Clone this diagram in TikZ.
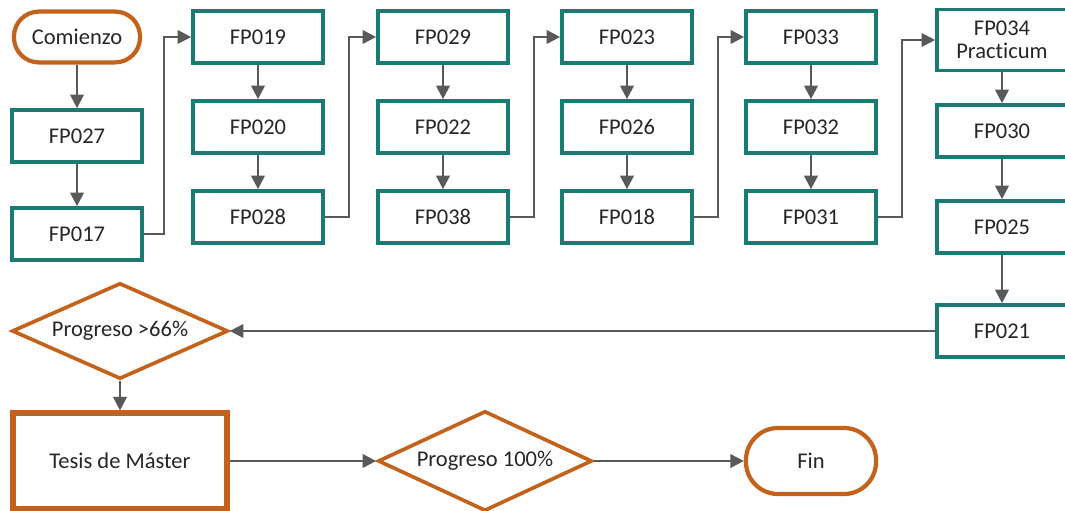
\documentclass[tikz,border=0pt]{standalone}
\usepackage{fontspec}
\setmainfont[Ligatures=NoCommon]{Carlito}
\usetikzlibrary{arrows.meta,shapes.geometric}
\definecolor{verde}{HTML}{1B7A72}
\definecolor{naranja}{HTML}{C4621C}
\definecolor{gris}{HTML}{595959}
\tikzset{
	fpbox/.style={draw=verde,line width=2.6pt,fill=white,minimum width=3.25cm,minimum height=1.3cm,inner sep=0pt,align=center,text=black!85},
	inicio/.style={draw=naranja,line width=3pt,fill=white,rounded corners=0.62cm,minimum width=3.15cm,minimum height=1.27cm,inner sep=0pt,text=black!85},
	decision/.style={draw=naranja,line width=2.6pt,fill=white,diamond,aspect=2.2,inner sep=0pt,text=black!85},
	flecha/.style={draw=gris,line width=1.5pt,-{Triangle[length=0.34cm,width=0.34cm]}},
	linea/.style={draw=gris,line width=1.5pt}
}
\begin{document}
\begin{tikzpicture}[x=0.025cm,y=-0.025cm,font=\fontsize{16}{18}\selectfont]
		\useasboundingbox (0,0) rectangle (1065,511);
		
		\node[inicio] (comienzo) at (77,37) {Comienzo};
		\node[fpbox] (fp027) at (77,136) {FP027};
		\node[fpbox] (fp017) at (77,234) {FP017};
		
		\node[fpbox] (fp019) at (258,37) {FP019};
		\node[fpbox] (fp020) at (258,127) {FP020};
		\node[fpbox] (fp028) at (258,217) {FP028};
		
		\node[fpbox] (fp029) at (443,37) {FP029};
		\node[fpbox] (fp022) at (443,127) {FP022};
		\node[fpbox] (fp038) at (443,217) {FP038};
		
		\node[fpbox] (fp023) at (627,37) {FP023};
		\node[fpbox] (fp026) at (627,127) {FP026};
		\node[fpbox] (fp018) at (627,217) {FP018};
		
		\node[fpbox] (fp033) at (811,37) {FP033};
		\node[fpbox] (fp032) at (811,127) {FP032};
		\node[fpbox] (fp031) at (811,217) {FP031};
		
		\node[fpbox,minimum height=1.52cm] (fp034) at (1002,40) {FP034\\[-2pt]Practicum};
		\node[fpbox] (fp030) at (1002,131) {FP030};
		\node[fpbox] (fp025) at (1002,227) {FP025};
		\node[fpbox] (fp021) at (1002,331) {FP021};
		
		\node[decision,minimum width=5.4cm,minimum height=2.4cm] (prog66) at (120,331) {Progreso >66\%};
		\node[draw=naranja,line width=3.6pt,fill=white,minimum width=5.35cm,minimum height=2.4cm,text=black!85] (tesis) at (120,461) {Tesis de Máster};
		\node[decision,minimum width=5.35cm,minimum height=2.5cm] (prog100) at (485,461) {Progreso 100\%};
		\node[inicio,rounded corners=0.8cm,minimum width=3.25cm,minimum height=1.65cm] (fin) at (811,461) {Fin};
		
		\draw[flecha] (comienzo) -- (fp027);
		\draw[flecha] (fp027) -- (fp017);
		\draw[flecha] (fp019) -- (fp020);
		\draw[flecha] (fp020) -- (fp028);
		\draw[flecha] (fp029) -- (fp022);
		\draw[flecha] (fp022) -- (fp038);
		\draw[flecha] (fp023) -- (fp026);
		\draw[flecha] (fp026) -- (fp018);
		\draw[flecha] (fp033) -- (fp032);
		\draw[flecha] (fp032) -- (fp031);
		\draw[flecha] (fp034) -- (fp030);
		\draw[flecha] (fp030) -- (fp025);
		\draw[flecha] (fp025) -- (fp021);
		
		\draw[flecha] (fp017.east) -- ++(20,0) |- (fp019.west);
		\draw[flecha] (fp028.east) -- ++(24,0) |- (fp029.west);
		\draw[flecha] (fp038.east) -- ++(24,0) |- (fp023.west);
		\draw[flecha] (fp018.east) -- ++(24,0) |- (fp033.west);
		\draw[flecha] (fp031.east) -- ++(24,0) |- (fp034.west);
		
		\draw[flecha] (fp021.west) -- (prog66.east);
		\draw[flecha] (prog66.south) -- (tesis.north);
		\draw[flecha] (tesis.east) -- (prog100.west);
		\draw[flecha] (prog100.east) -- (fin.west);
		
		\end{tikzpicture}
\end{document}
